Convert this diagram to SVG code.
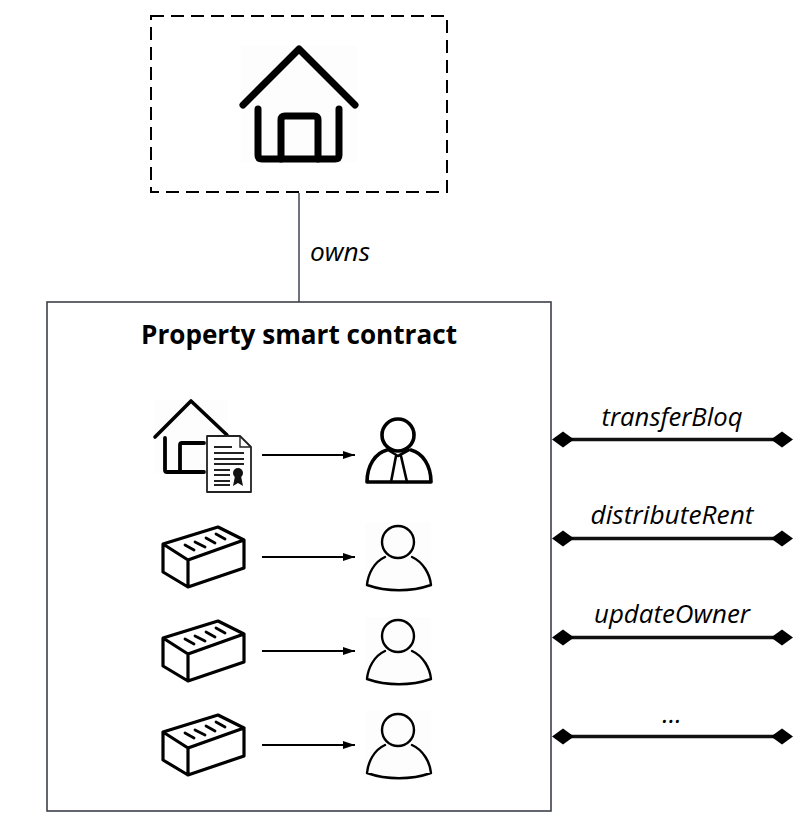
<svg xmlns="http://www.w3.org/2000/svg" width="806" height="826" viewBox="0 0 806 826">
<style>
.ln{fill:none;stroke:#000;stroke-linecap:round;stroke-linejoin:round}
.lb{font-family:"Open Sans","DejaVu Sans",sans-serif;font-style:italic;font-size:26px;fill:#000;text-anchor:middle}
.cn{stroke:#000;stroke-width:2;fill:none}
.bi{stroke:#111;stroke-width:3.4;fill:none}
</style>
<defs>
<marker id="arr" markerUnits="userSpaceOnUse" markerWidth="14" markerHeight="10" refX="12" refY="5" orient="auto"><path d="M0 1 L12 5 L0 9Z" fill="#000"/></marker>
<marker id="dia" markerUnits="userSpaceOnUse" markerWidth="24" markerHeight="18" refX="12" refY="9" orient="auto"><path d="M1 9 L12 1 L23 9 L12 17Z" fill="#000"/></marker>
<g id="brick"><rect x="161" y="524" width="86" height="66" fill="#fff"/><path class="ln" stroke-width="3.2" d="M163 544L218 527L244 540L188 560ZM163 544V572L188 587L244 568V540M188 560V587"/><path class="ln" stroke-width="2.8" d="M185 545L194 550M195 542L205 547M206 538L215 543M216 534L225 539"/></g>
<g id="person"><rect x="365" y="523" width="66" height="68" fill="#fdfdfd"/><circle cx="398" cy="542" r="16" class="ln" stroke-width="2.4"/><path class="ln" stroke-width="2.4" d="M385 557C374 562 368 574 367 585C387 592 411 592 431 585C430 574 423 562 412 557"/></g>
</defs>
<rect width="806" height="826" fill="#fff"/>
<g id="connectors">
<path d="M299 193V302" stroke="#4a4f59" stroke-width="1.6" fill="none"/>
<path class="cn" marker-end="url(#arr)" d="M262 455H355"/>
<path class="cn" marker-end="url(#arr)" d="M262 557H355"/>
<path class="cn" marker-end="url(#arr)" d="M262 651H355"/>
<path class="cn" marker-end="url(#arr)" d="M262 745H355"/>
<path class="bi" marker-start="url(#dia)" marker-end="url(#dia)" d="M563 439.5H782"/>
<path class="bi" marker-start="url(#dia)" marker-end="url(#dia)" d="M563 538.5H782"/>
<path class="bi" marker-start="url(#dia)" marker-end="url(#dia)" d="M563 637.5H782"/>
<path class="bi" marker-start="url(#dia)" marker-end="url(#dia)" d="M563 736.5H782"/>
</g>
<g id="property">
<rect x="151" y="16" width="296" height="176" fill="#fff" stroke="#000" stroke-width="2" stroke-dasharray="13 7"/>
<rect x="241" y="46" width="116" height="116" fill="#fdfdfd"/>
<path class="ln" stroke-width="7" d="M243 105L299 49L355 105"/>
<path class="ln" stroke-width="7" d="M258 109V155Q258 159 262 159H335Q339 159 339 155V109" stroke-linecap="butt"/>
<path class="ln" stroke-width="7" d="M281 159V120Q281 116 285 116H314Q318 116 318 120V159"/>
</g>
<g id="contract">
<rect x="47" y="302" width="504" height="509" fill="none" stroke="#3c4049" stroke-width="1.6"/>
<text x="299" y="344" font-family="'Open Sans','DejaVu Sans',sans-serif" font-weight="700" font-size="26" text-anchor="middle" textLength="316" lengthAdjust="spacingAndGlyphs">Property smart contract</text>
</g>
<g id="deed">
<rect x="154" y="400" width="74" height="74" fill="#fdfdfd"/>
<path class="ln" stroke-width="3.6" d="M155 437L191 401L227 435"/>
<path class="ln" stroke-width="3.8" d="M165 438V470Q165 472 167 472H204M180 472V445Q180 443 182 443H204"/>
<path d="M207 436H240L251 447V492H207Z" fill="#fff" stroke="#222" stroke-width="1.8" stroke-linejoin="round"/>
<path d="M240 436V447H251" fill="none" stroke="#222" stroke-width="1.4"/>
<path fill="none" stroke="#222" stroke-width="1.9" d="M214 447H232M214 453H244M214 459H244M214 464H244M214 470H230M214 475H230M214 481H230M214 485H230"/>
<circle cx="238" cy="473" r="5" fill="#111"/><path d="M235 476L233 486L238 483L243 486L241 476Z" fill="#111"/>
</g>
<g id="lawyer">
<circle cx="398" cy="435" r="16" class="ln" stroke-width="3.6"/>
<path class="ln" stroke-width="3.6" d="M387 450C375 453 367 466 367 482H431C431 466 423 453 411 450"/>
<path class="ln" stroke-width="2.6" d="M388 450L398 456L409 450M396 456L391 482M401 456L407 482"/>
</g>
<use id="brick1" href="#brick"/><use id="person1" href="#person"/>
<use id="brick2" href="#brick" y="94"/><use id="person2" href="#person" y="94"/>
<use id="brick3" href="#brick" y="188"/><use id="person3" href="#person" y="188"/>
<g id="labels">
<text class="lb" x="340" y="261" textLength="60" lengthAdjust="spacingAndGlyphs">owns</text>
<text class="lb" x="672" y="426" textLength="141" lengthAdjust="spacingAndGlyphs">transferBloq</text>
<text class="lb" x="672" y="524" textLength="163" lengthAdjust="spacingAndGlyphs">distributeRent</text>
<text class="lb" x="672" y="623" textLength="156" lengthAdjust="spacingAndGlyphs">updateOwner</text>
<text class="lb" x="672" y="723">...</text>
</g>
</svg>
